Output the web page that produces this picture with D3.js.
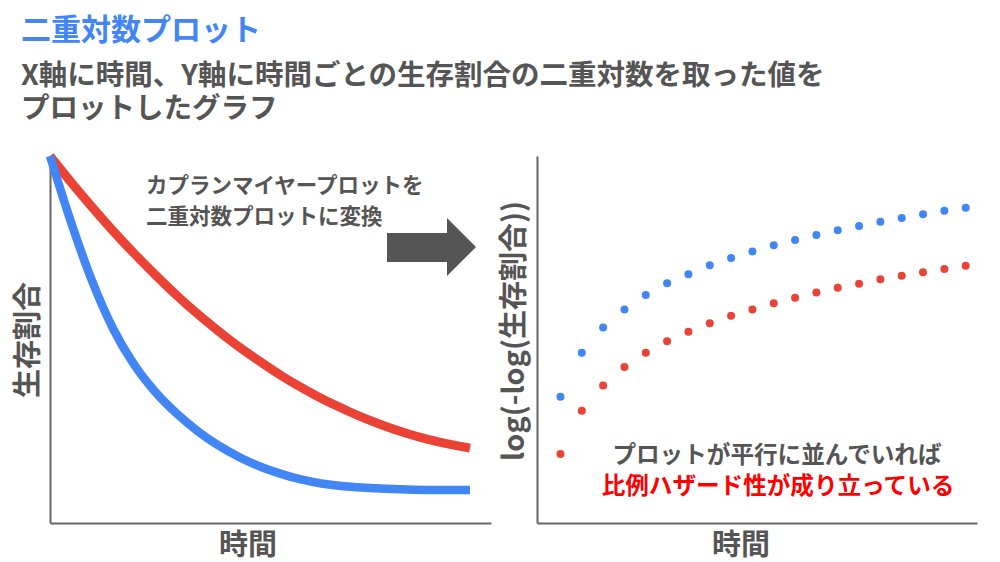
<!DOCTYPE html>
<html><head><meta charset="utf-8">
<script src="https://cdn.jsdelivr.net/npm/d3@7"></script>
<style>
html,body{margin:0;padding:0;background:#fff;}
svg{display:block;font-family:"Noto Sans CJK JP","Noto Sans",sans-serif;}
</style></head>
<body>
<svg id="c" width="1000" height="562"></svg>
<script>
// ---- data ----
const timeKM = [0,0.5,1,1.5,2,2.5,3,3.5,4,4.5,5,5.5,6,6.5,7,7.5,8,8.5,9,9.5,10];
const survRed = [1.000,0.929,0.861,0.796,0.735,0.677,0.622,0.571,0.524,0.480,0.440,0.402,0.368,0.337,0.310,0.285,0.263,0.244,0.228,0.215,0.204];
const survBlue = [1.000,0.820,0.660,0.530,0.432,0.358,0.300,0.252,0.212,0.180,0.154,0.134,0.118,0.107,0.100,0.096,0.093,0.091,0.090,0.090,0.090];
const timeLL = [1,2,3,4,5,6,7,8,9,10,11,12,13,14,15,16,17,18,19,20];
const llBlue = [34.4,46.4,53.3,58.2,62.1,65.3,67.8,70.2,72.2,74.0,75.7,77.1,78.5,79.8,80.9,82.1,83.1,84.1,85.1,85.9];
const llRed  = [18.8,30.6,37.5,42.5,46.4,49.5,52.1,54.4,56.5,58.2,59.9,61.4,62.8,64.1,65.2,66.4,67.4,68.3,69.2,70.1];
const titleText = "二重対数プロット";
const subtitleLines = ["X軸に時間、Y軸に時間ごとの生存割合の二重対数を取った値を","プロットしたグラフ"];
const noteLeft = ["カプランマイヤープロットを","二重対数プロットに変換"];
const noteRight = ["プロットが平行に並んでいれば","比例ハザード性が成り立っている"];
const xLabel = "時間";
const yLabelLeft = "生存割合";
const yLabelRight = "log(-log(生存割合))";

const BLUE = "#4285F4", RED = "#EA4335", GRAY = "#555555", AXIS = "#666666";
const svg = d3.select("#c");

// title
svg.append("text").attr("x",21).attr("y",40).attr("fill",BLUE)
  .attr("font-size",30).attr("font-weight",700).text(titleText);
svg.selectAll("text.sub").data(subtitleLines).enter().append("text")
  .attr("x",21).attr("y",(d,i)=>85+i*33).attr("fill",GRAY)
  .attr("font-size",28.5).attr("font-weight",700).text(d=>d);

// ---- left chart ----
const xL = d3.scaleLinear().domain([0,10.5]).range([50,491]);
const yL = d3.scaleLinear().domain([0,1]).range([523,156]);
const gL = svg.append("g");
const axL = gL.append("g").attr("transform","translate(50,0)").call(d3.axisLeft(yL).ticks(0).tickSizeOuter(0));
const axLB = gL.append("g").attr("transform","translate(0,523)").call(d3.axisBottom(xL).ticks(0).tickSizeOuter(0));
[axL,axLB].forEach(a=>a.select(".domain").attr("stroke",AXIS).attr("stroke-width",2));

const lineL = d3.line().x((d,i)=>xL(timeKM[i])).y(d=>yL(d)).curve(d3.curveMonotoneX);
gL.append("path").attr("d",lineL(survRed)).attr("fill","none").attr("stroke",RED).attr("stroke-width",9);
gL.append("path").attr("d",lineL(survBlue)).attr("fill","none").attr("stroke",BLUE).attr("stroke-width",8.5);

gL.append("text").attr("x",248).attr("y",555).attr("text-anchor","middle").attr("fill",GRAY)
  .attr("font-size",29).attr("font-weight",700).text(xLabel);
gL.append("text").attr("transform","translate(38,340) rotate(-90)").attr("text-anchor","middle").attr("fill",GRAY)
  .attr("font-size",29).attr("font-weight",700).text(yLabelLeft);

svg.selectAll("text.nl").data(noteLeft).enter().append("text")
  .attr("x",146).attr("y",(d,i)=>193+i*31).attr("fill",GRAY)
  .attr("font-size",21.5).attr("font-weight",700).text(d=>d);

// arrow
svg.append("path").attr("d","M387,233 L447,233 L447,218 L476,247 L447,276 L447,262 L387,262 Z").attr("fill",GRAY);

// ---- right chart ----
const xR = d3.scaleLinear().domain([-0.1,20.53]).range([537,977]);
const yR = d3.scaleLinear().domain([0,100]).range([523,156]);
const gR = svg.append("g");
const axR = gR.append("g").attr("transform","translate(537,0)").call(d3.axisLeft(yR).ticks(0).tickSizeOuter(0));
const axRB = gR.append("g").attr("transform","translate(0,523)").call(d3.axisBottom(xR).ticks(0).tickSizeOuter(0));
[axR,axRB].forEach(a=>a.select(".domain").attr("stroke",AXIS).attr("stroke-width",2));

gR.selectAll("circle.b").data(llBlue).enter().append("circle")
  .attr("cx",(d,i)=>xR(timeLL[i])).attr("cy",d=>yR(d)).attr("r",4).attr("fill",BLUE);
gR.selectAll("circle.r").data(llRed).enter().append("circle")
  .attr("cx",(d,i)=>xR(timeLL[i])).attr("cy",d=>yR(d)).attr("r",4).attr("fill",RED);

gR.append("text").attr("x",741).attr("y",555).attr("text-anchor","middle").attr("fill",GRAY)
  .attr("font-size",29).attr("font-weight",700).text(xLabel);
gR.append("text").attr("transform","translate(524,331) rotate(-90)").attr("text-anchor","middle").attr("fill",GRAY)
  .attr("font-size",29).attr("font-weight",700).text(yLabelRight);

gR.append("text").attr("x",777).attr("y",463).attr("text-anchor","middle").attr("fill",GRAY)
  .attr("font-size",23.6).attr("font-weight",700).text(noteRight[0]);
gR.append("text").attr("x",778).attr("y",494).attr("text-anchor","middle").attr("fill","#FF0000")
  .attr("font-size",23.6).attr("font-weight",700).text(noteRight[1]);
</script>
</body></html>
